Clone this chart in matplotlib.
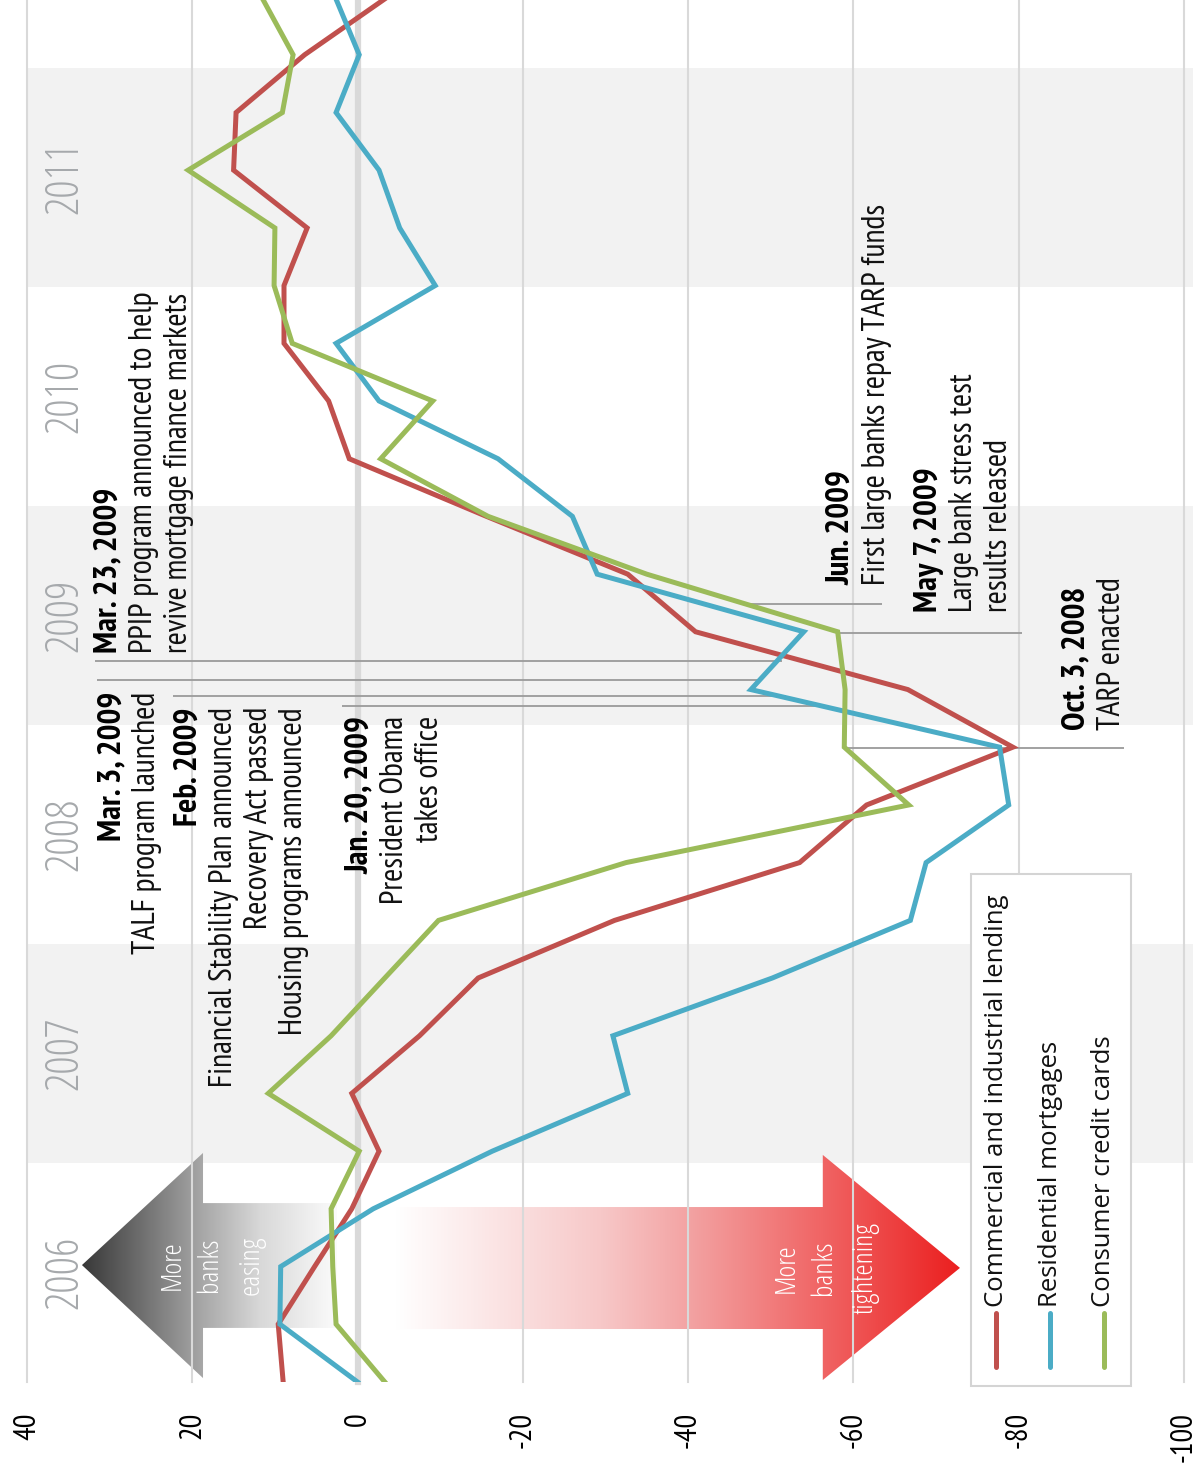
import numpy as np
import matplotlib
matplotlib.use('Agg')
import matplotlib.pyplot as plt
from matplotlib.patches import Polygon, Rectangle
from matplotlib.colors import LinearSegmentedColormap

NARROW = ['PT Sans Narrow', 'DejaVu Sans']
LIGHT = dict(family=['Open Sans', 'DejaVu Sans'], fontstretch='condensed', fontweight=300)
SANS = ['Open Sans', 'DejaVu Sans']
plt.rcParams['axes.unicode_minus'] = False

# survey rounds, as placed along the time axis (decimal years)
survey_time = [2006.000, 2006.264, 2006.527, 2006.791, 2007.054, 2007.318,
               2007.581, 2007.845, 2008.108, 2008.372, 2008.635, 2008.899,
               2009.162, 2009.426, 2009.689, 2009.953, 2010.216, 2010.480,
               2010.743, 2011.007, 2011.270, 2011.534, 2011.797, 2012.061,
               2012.324]

# net percentage of banks easing (+) / tightening (-) standards
ci_lending = [9.0, 9.6, 5.2, 0.7, -2.6, 0.7, -7.5, -14.6, -31.1, -53.5, -61.6, -79.3,
              -66.6, -40.9, -32.7, -15.6, 1.0, 3.5, 8.9, 8.9, 6.1, 15.0, 14.7, 6.4, -3.6]
res_mortgages = [0.0, 9.4, 9.3, -1.9, -16.3, -32.7, -30.9, -50.2, -66.9, -68.8, -78.8, -77.7,
                 -47.6, -54.0, -29.0, -26.0, -17.0, -2.6, 2.6, -9.4, -5.1, -2.6, 2.6, -0.2, 2.7]
credit_cards = [-3.3, 2.6, 3.0, 3.2, -0.2, 10.8, 3.2, -3.3, -9.8, -32.5, -66.7, -58.9,
                -59.0, -58.1, -35.0, -15.8, -2.8, -9.1, 7.9, 10.1, 10.0, 20.5, 9.1, 7.8, 11.6]

series_names = ['Commercial and industrial lending', 'Residential mortgages', 'Consumer credit cards']
series_colors = ['#C0504D', '#4BACC6', '#9BBB59']

years = [2006, 2007, 2008, 2009, 2010, 2011]
value_ticks = [40, 20, 0, -20, -40, -60, -80, -100]

# events: (bold title, body lines, event time, connector extent, text anchor time, first line value, align)
events = [
    ('Oct. 3, 2008', ['TARP enacted'], 2008.895, (-58.9, -92.7), 2008.977, -87.0, 'left'),
    ('May 7, 2009', ['Large bank stress test', 'results released'], 2009.420, (-57.9, -80.4), 2009.516, -69.1, 'left'),
    ('Jun. 2009', ['First large banks repay TARP funds'], 2009.553, (-47.6, -63.5), 2009.639, -58.6, 'left'),
    ('Mar. 23, 2009', ['PPIP program announced to help', 'revive mortgage finance markets'],
     2009.294, (31.8, -51.4), 2009.329, 30.1, 'left'),
    ('Mar. 3, 2009', ['TALF program launched'], 2009.205, (31.5, -48.7), 2009.151, 29.7, 'right'),
    ('Feb. 2009', ['Financial Stability Plan announced', 'Recovery Act passed', 'Housing programs announced'],
     2009.134, (22.3, -51.9), 2009.082, 20.4, 'right'),
    ('Jan. 20, 2009', ['President Obama', 'takes office'], 2009.085, (1.9, -55.3), 2009.041, -0.3, 'right'),
]

fig = plt.figure(figsize=(11.93, 14.77), dpi=100)
ax = fig.add_axes([27 / 1193, 95 / 1477, 1 - 27 / 1193, 1382 / 1477])
XLIM = (40, -101.1)
YLIM = (2006.0, 2012.311)

# alternating year bands
for y in years[1::2]:
    ax.axhspan(y, y + 1, color='#f2f2f2', lw=0, zorder=0)

# year labels
for y in years:
    ax.text(35.4, y + 0.5, str(y), rotation=90, rotation_mode='anchor', ha='center', va='center',
            color='#a6a9ac', fontsize=33, zorder=1, **LIGHT)


def gradient_arrow(verts, v_from, v_to, t_lo, t_hi, stops):
    cmap = LinearSegmentedColormap.from_list('arrow', stops)
    grad = np.linspace(0, 1, 256).reshape(1, -1)
    im = ax.imshow(grad, cmap=cmap, extent=(v_from, v_to, t_lo, t_hi), aspect='auto',
                   origin='lower', interpolation='bilinear', zorder=1)
    poly = Polygon(verts, closed=True, transform=ax.transData, facecolor='none', edgecolor='none')
    ax.add_patch(poly)
    im.set_clip_path(poly)


# easing arrow (points to positive values)
b = 2006
gradient_arrow([(33.35, b + 0.534), (18.7, b + 1.046), (18.7, b + 0.817), (2.5, b + 0.817),
                (2.5, b + 0.247), (18.7, b + 0.247), (18.7, b + 0.018)],
               33.35, 2.5, b, b + 1.1,
               [(0, '#383838'), (0.475, '#a8a8a8'), (0.70, '#d8d8d8'), (1.0, '#fbfbfb')])
# tightening arrow (points to negative values)
gradient_arrow([(-72.9, b + 0.521), (-56.3, b + 1.037), (-56.3, b + 0.799), (-4.5, b + 0.799),
                (-4.5, b + 0.242), (-56.3, b + 0.242), (-56.3, b + 0.009)],
               -4.5, -72.9, b, b + 1.1,
               [(0, '#ffffff'), (0.363, '#f7c8c8'), (0.515, '#f3a4a4'), (0.757, '#f06464'), (1, '#eb1f1f')])

for txt, v in zip(['More', 'banks', 'easing'], [22.4, 17.8, 12.8]):
    ax.text(v, b + 0.534, txt, rotation=90, rotation_mode='anchor', ha='center', va='center',
            color='white', fontsize=20.5, zorder=5, **LIGHT)
for txt, v in zip(['More', 'banks', 'tightening'], [-51.9, -56.5, -61.4]):
    ax.text(v, b + 0.521, txt, rotation=90, rotation_mode='anchor', ha='center', va='center',
            color='white', fontsize=20.5, zorder=5, **LIGHT)

# value grid
for v in value_ticks:
    ax.axvline(v, color='#d9d9d9', lw=4.5 if v == 0 else 1.5, zorder=2, clip_on=False)

# event connectors and notes
LINE_STEP = 4.24
for title, body, t_ev, (v0, v1), t_txt, v_first, align in events:
    ax.plot([v0, v1], [t_ev, t_ev], color='#9a9a9a', lw=1.3, zorder=3, solid_capstyle='butt')
    ax.text(v_first, t_txt, title, rotation=90, rotation_mode='anchor', ha=align, va='center',
            fontsize=24, fontweight='bold', family=NARROW, color='black', zorder=5)
    for i, line in enumerate(body):
        ax.text(v_first - (i + 1) * LINE_STEP, t_txt, line, rotation=90, rotation_mode='anchor',
                ha=align, va='center', fontsize=23, family=NARROW, color='#111111', zorder=5)

# data lines
for vals, c in zip([ci_lending, res_mortgages, credit_cards], series_colors):
    ax.plot(vals, survey_time, color=c, lw=3.6, zorder=4, solid_joinstyle='miter')

# legend, drawn sideways
ax.add_patch(Rectangle((-74.2, 2005.982), -19.4, 2.338, facecolor='white', edgecolor='#d4d4d4',
                       lw=1.5, zorder=4.5, clip_on=False))
for name, c, v in zip(series_names, series_colors, [-77.3, -83.8, -90.3]):
    ax.plot([v, v], [2006.068, 2006.315], color=c, lw=3.6, solid_capstyle='round', zorder=5)
    ax.text(v, 2006.342, name, rotation=90, rotation_mode='anchor', ha='left', va='center',
            fontsize=18.5, family=SANS, color='#111111', zorder=5)

ax.set_xlim(*XLIM)
ax.set_ylim(*YLIM)
ax.set_xticks(value_ticks)
ax.set_xticklabels([str(v) for v in value_ticks])
ax.set_yticks([])
ax.tick_params(axis='x', length=0, pad=21.6)
plt.setp(ax.get_xticklabels(), rotation=90, ha='center', va='top', rotation_mode='default',
         family=NARROW, fontsize=22, color='black')
for s in ax.spines.values():
    s.set_visible(False)
ax.patch.set_alpha(0)

fig.savefig('out.png', dpi=100)
